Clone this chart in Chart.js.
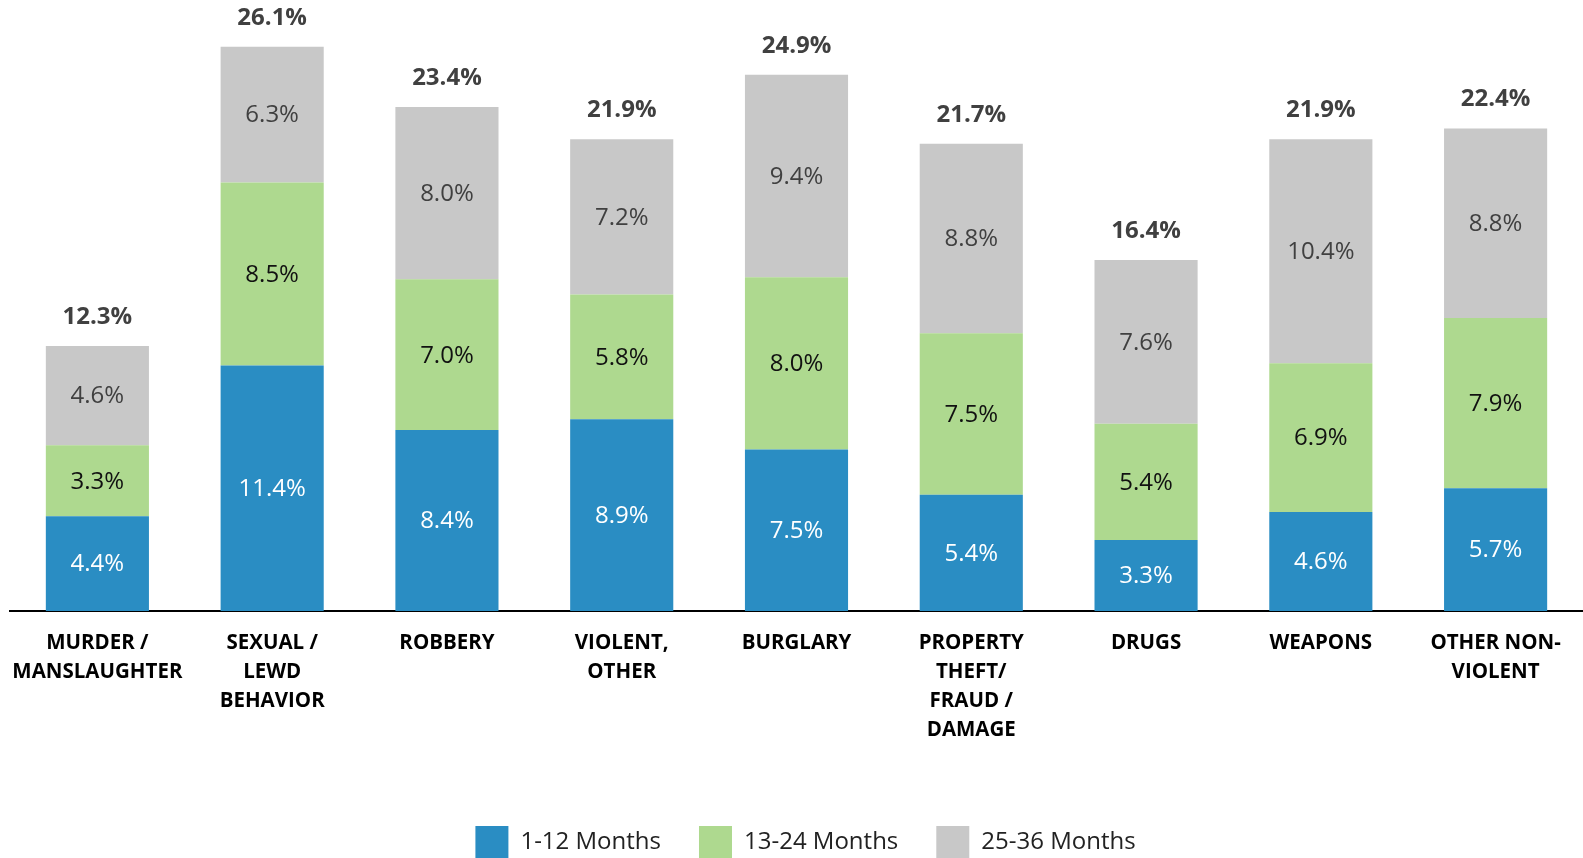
<!DOCTYPE html>
<html>
<head>
<meta charset="utf-8">
<script src="https://cdn.jsdelivr.net/npm/chart.js@4/dist/chart.umd.min.js"></script>
<style>
  html, body { margin: 0; padding: 0; background: #fff; }
  #wrap { width: 1583px; height: 858px; }
</style>
</head>
<body>
<div id="wrap"><canvas id="myBarChart" width="1583" height="858"></canvas></div>
<script>
const categories = [
    ["MURDER /", "MANSLAUGHTER"],
    ["SEXUAL /", "LEWD", "BEHAVIOR"],
    ["ROBBERY"],
    ["VIOLENT,", "OTHER"],
    ["BURGLARY"],
    ["PROPERTY", "THEFT/", "FRAUD /", "DAMAGE"],
    ["DRUGS"],
    ["WEAPONS"],
    ["OTHER NON-", "VIOLENT"]
]
const months1to12 = [4.4, 11.4, 8.4, 8.9, 7.5, 5.4, 3.3, 4.6, 5.7]
const months13to24 = [3.3, 8.5, 7.0, 5.8, 8.0, 7.5, 5.4, 6.9, 7.9]
const months25to36 = [4.6, 6.3, 8.0, 7.2, 9.4, 8.8, 7.6, 10.4, 8.8]
const totals = [12.3, 26.1, 23.4, 21.9, 24.9, 21.7, 16.4, 21.9, 22.4]
const seriesNames = ["1-12 Months", "13-24 Months", "25-36 Months"]

const fontFamily = "'Open Sans', 'DejaVu Sans', sans-serif"
const labelColors = ["#ffffff", "#111111", "#404040"]

// draws the value inside each segment and the total above each bar
const valueLabels = {
    id: 'valueLabels',
    afterLayout(chart) {
        // nudge the legend a little to the right, like the original
        chart.legend.left += 18
    },
    afterDatasetsDraw(chart) {
        const ctx = chart.ctx
        ctx.save()
        ctx.textAlign = 'center'
        ctx.textBaseline = 'middle'
        chart.data.datasets.forEach((ds, i) => {
            const meta = chart.getDatasetMeta(i)
            ctx.font = `24px ${fontFamily}`
            ctx.fillStyle = labelColors[i]
            meta.data.forEach((bar, j) => {
                ctx.fillText(ds.data[j].toFixed(1) + '%', bar.x, (bar.y + bar.base) / 2 + 1)
            })
        })
        const top = chart.getDatasetMeta(chart.data.datasets.length - 1)
        ctx.font = `bold 24px ${fontFamily}`
        ctx.fillStyle = '#404040'
        top.data.forEach((bar, j) => {
            ctx.fillText(totals[j].toFixed(1) + '%', bar.x, bar.y - 29)
        })
        ctx.restore()
    }
}

const myBarChart = new Chart(document.getElementById("myBarChart"), {
    type: 'bar',
    data: {
        labels: categories,
        datasets: [
            { label: seriesNames[0], data: months1to12, backgroundColor: "#2a8dc3" },
            { label: seriesNames[1], data: months13to24, backgroundColor: "#aed98f" },
            { label: seriesNames[2], data: months25to36, backgroundColor: "#c8c8c8" }
        ]
    },
    options: {
        responsive: false,
        animation: false,
        layout: { padding: { top: 8, left: 10, right: 0, bottom: -10 } },
        datasets: { bar: { categoryPercentage: 1, barPercentage: 0.59 } },
        scales: {
            x: {
                stacked: true,
                grid: { display: false, drawTicks: false },
                border: { display: true, color: '#000000', width: 2 },
                ticks: {
                    autoSkip: false,
                    maxRotation: 0,
                    padding: 18,
                    color: '#000000',
                    font: { family: fontFamily, size: 20.5, weight: 'bold', lineHeight: 1.415 }
                },
                afterFit: (scale) => {
                    scale.height = 213
                    scale.paddingLeft = 0
                    scale.paddingRight = 0
                }
            },
            y: {
                stacked: true,
                display: false,
                min: 0,
                max: 28
            }
        },
        plugins: {
            tooltip: { enabled: false },
            legend: {
                position: 'bottom',
                labels: {
                    boxWidth: 33,
                    boxHeight: 32,
                    padding: 2,
                    color: '#222222',
                    font: { family: fontFamily, size: 24 },
                    generateLabels: (chart) => {
                        const items = Chart.defaults.plugins.legend.labels.generateLabels(chart)
                        items.forEach((item, i) => {
                            item.lineWidth = 0
                            if (i < items.length - 1) item.text = item.text + '\u2003\u2002'
                        })
                        return items
                    }
                }
            }
        }
    },
    plugins: [valueLabels]
});
</script>
</body>
</html>
